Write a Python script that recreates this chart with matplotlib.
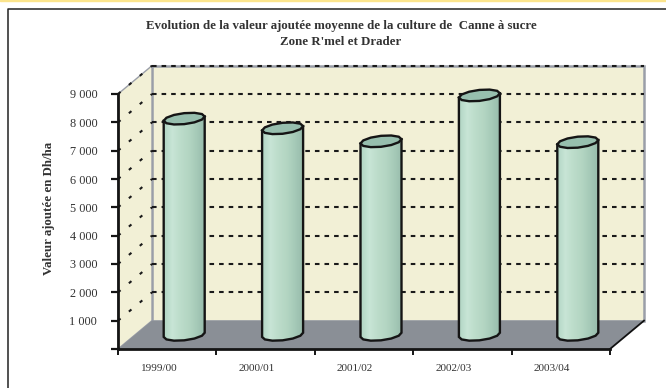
import numpy as np
import matplotlib
matplotlib.use('Agg')
import matplotlib.pyplot as plt
from matplotlib.patches import Polygon
from matplotlib.colors import LinearSegmentedColormap
from matplotlib.lines import Line2D
from matplotlib.patches import Rectangle

plt.rcParams['font.family'] = ['Liberation Serif', 'DejaVu Serif']

# %% data

years = ['1999/00', '2000/01', '2001/02', '2002/03', '2003/04']
values = [7630, 7290, 6830, 8450, 6800]
y_ticks = [0, 1000, 2000, 3000, 4000, 5000, 6000, 7000, 8000, 9000]
y_labels = ['', '1 000', '2 000', '3 000', '4 000', '5 000', '6 000', '7 000', '8 000', '9 000']

title = "Evolution de la valeur ajoutée moyenne de la culture de  Canne à sucre\nZone R'mel et Drader"
ylabel = 'Valeur ajoutée en Dh/ha'

# %% style

W, H = 666, 388
wall = '#f2f0d6'
floor = '#8a8f96'
edge = '#9a9ea8'
text = '#333333'
body = LinearSegmentedColormap.from_list('body', ['#b2d6c4', '#c8e5d6', '#bcdcca', '#b4d6c3', '#a6cab8', '#98bcac'])
dash = (0, (2.2, 2.4))
dash_side = (0, (1.6, 5.2))

# depth of the 3D box, in data units
dep_x = 34 / 492 * 5
dep_y = 1000

def sh(x, y, d):
    return (x + dep_x*d, y + dep_y*d)

fig = plt.figure(figsize=(W/100, H/100), dpi=100)
ax = fig.add_axes([118/W, 1-349/H, 492/W, 255/H])
ax.set_facecolor('none')

# page decorations
fig.add_artist(Rectangle((0, 1-1/H), 1, 1/H, color='#fbe48c', transform=fig.transFigure))
fig.add_artist(Line2D([8/W, 8/W, 1], [0, 1-9/H, 1-9/H], color='#222222', lw=1.1))

# walls and floor
ax.add_patch(Polygon([sh(0, 0, 1), sh(5, 0, 1), sh(5, 9000, 1), sh(0, 9000, 1)], closed=True,
                     fc=wall, ec=edge, lw=1.8, zorder=1, clip_on=False))
ax.add_patch(Polygon([sh(0, 0, 0), sh(0, 0, 1), sh(0, 9000, 1), sh(0, 9000, 0)], closed=True,
                     fc=wall, ec=edge, lw=1, zorder=1.5, clip_on=False))
ax.add_patch(Polygon([sh(0, 0, 0), sh(5, 0, 0), sh(5, 0, 1), sh(0, 0, 1)], closed=True,
                     fc=floor, ec='none', zorder=2, clip_on=False))
ax.plot(*zip(sh(5, 0, 0), sh(5, 0, 1)), color='#111111', lw=1.3, zorder=2.5, clip_on=False)

# gridlines on both walls
for v in y_ticks[1:]:
    ax.plot(*zip(sh(0, v, 1), sh(5, v, 1)), color='#1a1a1a', lw=1.5, ls=dash, zorder=1.8, clip_on=False)
    ax.plot(*zip(sh(0, v, 0), sh(0, v, 1)), color='#1a1a1a', lw=1.5, ls=dash_side, zorder=1.8, clip_on=False)

# cylinders
bw = 41 / 492 * 5
bh = 5.5 / 255 * 9000
skew = 75
t = np.linspace(0, 2*np.pi, 13)

def ring(cx, cy):
    ex = cx + bw/2*np.cos(t)
    ey = cy + bh*np.sin(t) + skew*np.cos(t)
    return ex, ey

for i, v in enumerate(values):
    cx, base = sh(i + 0.5, 0, 0.5)
    top = base + v
    bx, by = ring(cx, base)
    tx, ty = ring(cx, top)
    low = t >= np.pi
    bx_low, by_low = bx[low], by[low]
    px = np.r_[bx_low, cx + bw/2, cx - bw/2]
    py = np.r_[by_low, top + skew, top - skew]
    clip = Polygon(np.c_[px, py], closed=True, fc='none', ec='#151515', lw=1.7, zorder=4, clip_on=False)
    ax.add_patch(clip)
    im = ax.imshow(np.linspace(0, 1, 64)[None, :], cmap=body, aspect='auto', zorder=3, interpolation='bilinear',
                   extent=(cx - bw/2, cx + bw/2, base - 2*bh, top + 2*bh))
    im.set_clip_path(clip)
    ax.add_patch(Polygon(np.c_[tx, ty], closed=True, fc='#97bfae', ec='#151515', lw=1.7, zorder=5, clip_on=False))

# axes
ax.set_xlim(0, 5)
ax.set_ylim(0, 9000)
ax.spines[['top', 'right']].set_visible(False)
ax.spines[['left', 'bottom']].set_color('#151515')
ax.spines[['left', 'bottom']].set_linewidth(2)
ax.spines[['left', 'bottom']].set_zorder(6)
ax.set_yticks(y_ticks)
ax.set_yticklabels(y_labels, fontsize=8.8, color=text)
ax.tick_params(axis='y', length=5, width=1.6, color='#151515', pad=10)
ax.set_xticks(range(6))
ax.set_xticklabels([])
ax.tick_params(axis='x', which='major', length=4, width=1.4, color='#151515')
ax.set_xticks(np.arange(5) + 0.41, minor=True)
ax.set_xticklabels(years, minor=True, fontsize=8.1, color=text)
ax.tick_params(axis='x', which='minor', length=0, pad=11)

fig.text(341/W, 1-34/H, title, ha='center', va='center', fontsize=9.3, fontweight='bold', color=text, linespacing=1.37)
fig.text(49/W, 1-208/H, ylabel, ha='center', va='center', rotation=90, fontsize=9.3, fontweight='bold', color=text)

fig.savefig('out.png', dpi=100)
